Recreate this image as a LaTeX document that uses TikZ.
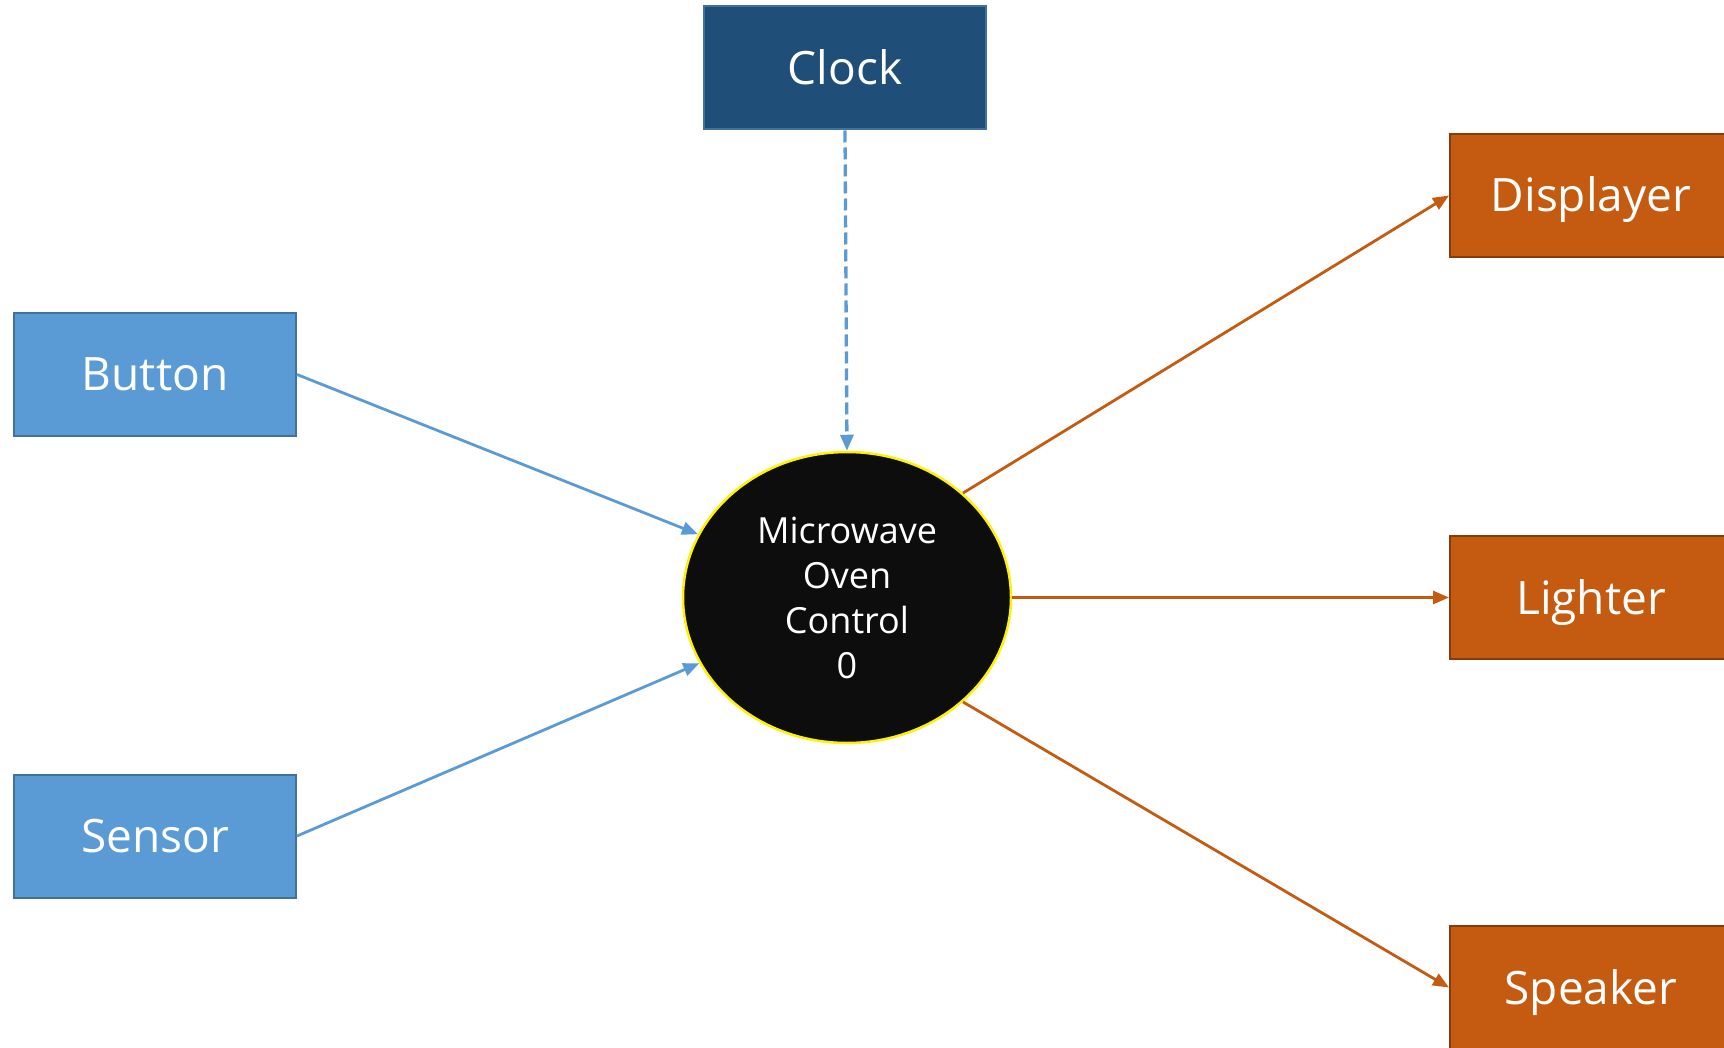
\documentclass[tikz,border=0pt]{standalone}
\usepackage{fontspec}
\setmainfont{Open Sans}
\usetikzlibrary{shapes.geometric,arrows.meta}
\definecolor{clockfill}{HTML}{1F4E79}
\definecolor{clockdraw}{HTML}{41719C}
\definecolor{bluefill}{HTML}{5B9BD5}
\definecolor{bluedraw}{HTML}{41719C}
\definecolor{orangefill}{HTML}{C55A11}
\definecolor{orangedraw}{HTML}{843C0C}
\definecolor{ctrlfill}{HTML}{0D0D0D}
\definecolor{lineblue}{HTML}{5B9BD5}
\definecolor{lineorange}{HTML}{C55A11}
\tikzset{
  boxnode/.style={rectangle, minimum width=282pt, minimum height=123pt, line width=2pt, text=white, font=\fontsize{46}{50}\selectfont, inner sep=0pt, text height=33pt, text depth=0pt},
  clockbox/.style={boxnode, fill=clockfill, draw=clockdraw},
  inbox/.style={boxnode, fill=bluefill, draw=bluedraw},
  outbox/.style={boxnode, fill=orangefill, draw=orangedraw},
  ctrlnode/.style={ellipse, minimum width=328pt, minimum height=291pt, inner sep=0pt, fill=ctrlfill, draw=yellow, line width=2.5pt, text=white, align=center, font=\fontsize{36}{45}\selectfont},
  inarrow/.style={draw=lineblue, line width=2.8pt, -{Triangle[length=16pt,width=13pt]}},
  outarrow/.style={draw=lineorange, line width=2.8pt, -{Triangle[length=16pt,width=13pt]}}
}
\begin{document}
\begin{tikzpicture}[x=1pt,y=-1pt]
\useasboundingbox (0,0) rectangle (1724,1048);
\node[clockbox] (clock) at (845,68) {Clock};
\node[inbox] (button) at (155,374.5) {Button};
\node[inbox] (sensor) at (155,836) {Sensor};
\node[outbox] (disp) at (1591,195.5) {Displayer};
\node[outbox] (light) at (1591,597.5) {Lighter};
\node[outbox] (speak) at (1591,987.5) {Speaker};
\node[ctrlnode] (ctrl) at (847,597.5) {Microwave\\Oven\\Control\\0};
\draw[inarrow, dash pattern=on 12pt off 5pt, line width=3.3pt] (clock.south) -- (ctrl.north);
\draw[inarrow] (button.east) -- (ctrl.157);
\draw[inarrow] (sensor.east) -- (ctrl.204);
\draw[outarrow] (ctrl.42) -- (disp.west);
\draw[outarrow] (ctrl.east) -- (light.west);
\draw[outarrow] (ctrl.-42) -- (speak.west);
\end{tikzpicture}
\end{document}
